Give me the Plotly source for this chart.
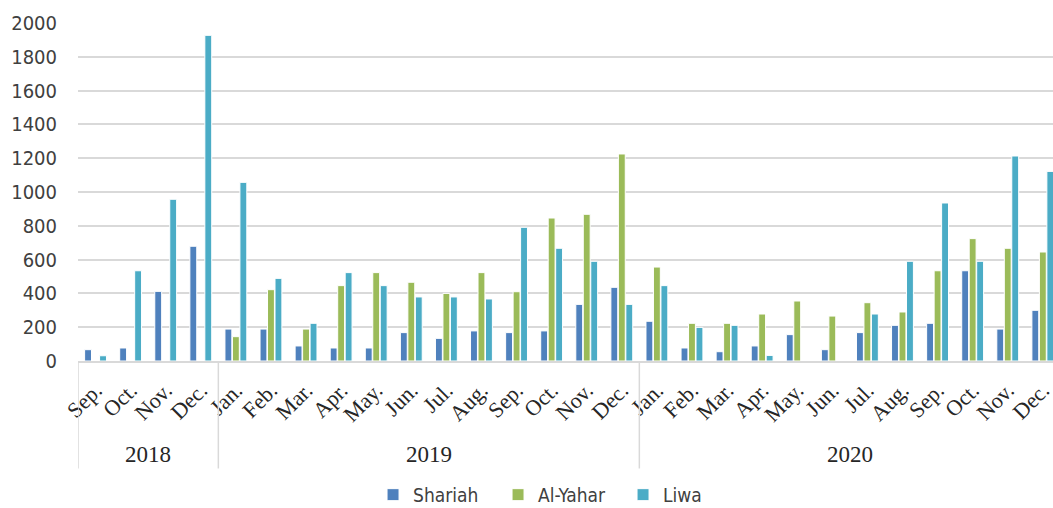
import plotly.graph_objects as go

# Monthly counts per site, Sep 2018 - Dec 2020
year_labels = ["2018", "2019", "2020"]
months_2018 = ["Sep.", "Oct.", "Nov.", "Dec."]
months_full = ["Jan.", "Feb.", "Mar.", "Apr.", "May.", "Jun.",
               "Jul.", "Aug.", "Sep.", "Oct.", "Nov.", "Dec."]
year_months = [months_2018, months_full, months_full]
months = [m for ms in year_months for m in ms]

shariah = [67, 77, 412, 679,
           189, 189, 89, 77, 77, 168, 134, 178, 168, 178, 335, 436,
           235, 77, 55, 89, 156, 67, 168, 211, 223, 534, 189, 300]
al_yahar = [0, 0, 0, 0,
            144, 422, 189, 446, 523, 466, 400, 523, 410, 846, 868, 1225,
            556, 223, 223, 278, 355, 266, 345, 290, 534, 724, 667, 645]
liwa = [31, 534, 957, 1927,
        1057, 489, 223, 523, 446, 379, 379, 367, 791, 667, 590, 335,
        446, 199, 211, 33, 0, 0, 278, 590, 935, 590, 1213, 1122]

series = [
    ("Shariah", shariah, "#4F81BD"),
    ("Al-Yahar", al_yahar, "#9BBB59"),
    ("Liwa", liwa, "#4BACC6"),
]

idx = list(range(len(months)))

fig = go.Figure()
for name, vals, color in series:
    fig.add_trace(go.Bar(
        x=idx,
        y=vals,
        name=name,
        marker=dict(color=color, line=dict(color="white", width=1)),
    ))

# year group labels and separators beneath the month labels
start = 0
bounds = [-0.5]
for yr, ms in zip(year_labels, year_months):
    mid = start + (len(ms) - 1) / 2
    fig.add_annotation(
        x=mid, y=-0.278, xref="x", yref="paper",
        text=yr, showarrow=False, yanchor="middle",
        font=dict(family="Liberation Serif", size=23, color="#262626"),
    )
    start += len(ms)
    bounds.append(start - 0.5)
for b in bounds:
    fig.add_shape(
        type="line", xref="x", yref="paper",
        x0=b, x1=b, y0=0, y1=-0.318,
        line=dict(color="#D9D9D9", width=1.5),
    )

fig.update_layout(
    width=1053,
    height=508,
    margin=dict(l=78, r=0, t=23, b=147, autoexpand=False),
    paper_bgcolor="white",
    plot_bgcolor="white",
    barmode="group",
    bargap=0.36,
    bargroupgap=0.08,
    showlegend=True,
    legend=dict(
        orientation="h",
        x=0.3026,
        xanchor="left",
        yref="container",
        y=0.026,
        yanchor="middle",
        font=dict(family="DejaVu Sans Condensed, DejaVu Sans", size=19, color="#404040"),
        itemwidth=30,
        entrywidth=80,
    ),
)

fig.update_xaxes(
    range=[-0.5, 27.29],
    tickmode="array",
    tickvals=idx,
    ticktext=months,
    tickangle=-45,
    tickfont=dict(family="Liberation Serif", size=22, color="#262626"),
    ticklabelstandoff=6,
    ticklabeloverflow="allow",
    showgrid=False,
    showline=True,
    linecolor="#D9D9D9",
    linewidth=1.5,
    ticks="",
    zeroline=False,
)

fig.update_yaxes(
    range=[0, 2000],
    dtick=200,
    showgrid=True,
    gridcolor="#D9D9D9",
    gridwidth=1.5,
    zeroline=False,
    tickfont=dict(family="DejaVu Sans Condensed, DejaVu Sans", size=20, color="#404040"),
    ticklabelstandoff=20,
)

fig.write_html("out.html")
